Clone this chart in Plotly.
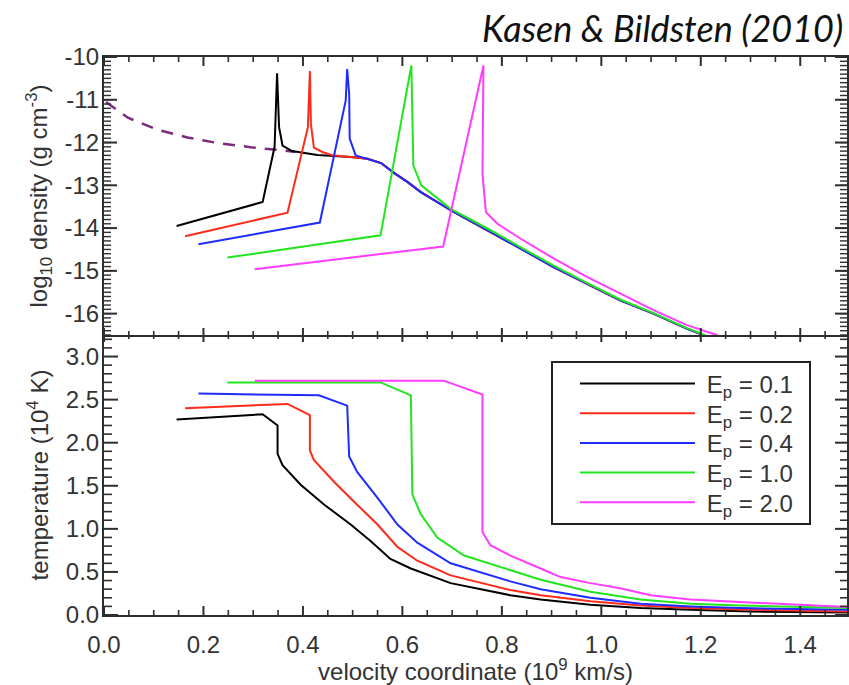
import plotly.graph_objects as go

# ---------------- data: density panel (log10 rho vs velocity coordinate) ----------------
rho_v_01 = [0.146, 0.319, 0.343, 0.348, 0.352, 0.359, 0.378, 0.429, 0.496, 0.530, 0.557, 0.583, 0.610, 0.637,
            0.704, 0.771, 0.838, 0.904, 0.971, 1.038, 1.105, 1.172, 1.199, 1.250]
rho_01 = [-13.95, -13.39, -12.10, -10.38, -11.64, -12.07, -12.20, -12.29, -12.34, -12.38, -12.48, -12.71, -12.92,
          -13.16, -13.63, -14.05, -14.48, -14.91, -15.30, -15.69, -16.00, -16.35, -16.47, -16.75]

rho_v_02 = [0.163, 0.369, 0.410, 0.414, 0.416, 0.422, 0.439, 0.460, 0.496, 0.530, 0.557, 0.583, 0.610, 0.637,
            0.704, 0.771, 0.838, 0.904, 0.971, 1.038, 1.105, 1.172, 1.199, 1.250]
rho_02 = [-14.19, -13.64, -11.64, -10.33, -11.56, -12.12, -12.22, -12.30, -12.34, -12.38, -12.48, -12.71, -12.92,
          -13.16, -13.63, -14.05, -14.48, -14.91, -15.30, -15.69, -16.00, -16.35, -16.47, -16.75]

rho_v_04 = [0.190, 0.434, 0.486, 0.489, 0.493, 0.494, 0.506, 0.530, 0.557, 0.583, 0.610, 0.637,
            0.704, 0.771, 0.838, 0.904, 0.971, 1.038, 1.105, 1.172, 1.199, 1.250]
rho_04 = [-14.38, -13.87, -11.02, -10.28, -10.86, -11.91, -12.30, -12.38, -12.48, -12.71, -12.92,
          -13.16, -13.63, -14.05, -14.48, -14.91, -15.30, -15.69, -16.00, -16.35, -16.47, -16.75]

rho_v_10 = [0.248, 0.556, 0.618, 0.622, 0.638, 0.697, 0.771, 0.838, 0.904, 0.971, 1.038, 1.105, 1.172, 1.199, 1.250]
rho_10 = [-14.69, -14.17, -10.20, -12.54, -13.00, -13.55, -14.01, -14.44, -14.88, -15.28, -15.67, -15.99, -16.34,
          -16.46, -16.72]

rho_v_20 = [0.303, 0.682, 0.763, 0.761, 0.768, 0.791, 0.838, 0.904, 0.971, 1.038, 1.105, 1.172, 1.232, 1.260]
rho_20 = [-14.96, -14.43, -10.20, -12.73, -13.63, -13.90, -14.25, -14.71, -15.14, -15.53, -15.92, -16.27, -16.50,
          -16.65]

# unshocked progenitor profile (dashed)
rho_v_init = [0.004, 0.048, 0.108, 0.168, 0.228, 0.295, 0.355, 0.385]
rho_init = [-11.05, -11.42, -11.70, -11.88, -12.01, -12.11, -12.18, -12.22]

# ---------------- data: temperature panel (1e4 K) ----------------
t_v_01 = [0.146, 0.319, 0.349, 0.349, 0.359, 0.396, 0.443, 0.496, 0.536, 0.576, 0.617, 0.697, 0.817, 0.878,
          0.978, 1.079, 1.179, 1.300, 1.500]
t_01 = [2.27, 2.33, 2.20, 1.87, 1.74, 1.51, 1.28, 1.05, 0.86, 0.65, 0.54, 0.37, 0.23, 0.18, 0.12, 0.08, 0.06,
        0.04, 0.03]

t_v_02 = [0.163, 0.369, 0.414, 0.414, 0.422, 0.462, 0.509, 0.550, 0.590, 0.630, 0.697, 0.817, 0.878, 0.978,
          1.079, 1.179, 1.300, 1.500]
t_02 = [2.40, 2.45, 2.32, 1.91, 1.80, 1.55, 1.28, 1.05, 0.79, 0.63, 0.46, 0.29, 0.23, 0.16, 0.11, 0.08, 0.06,
        0.04]

t_v_04 = [0.190, 0.432, 0.489, 0.493, 0.509, 0.550, 0.590, 0.630, 0.697, 0.817, 0.878, 0.978, 1.079, 1.179,
          1.279, 1.500]
t_04 = [2.57, 2.55, 2.43, 1.84, 1.66, 1.36, 1.05, 0.84, 0.60, 0.39, 0.30, 0.20, 0.13, 0.10, 0.08, 0.06]

t_v_10 = [0.248, 0.556, 0.617, 0.620, 0.637, 0.670, 0.724, 0.817, 0.878, 0.978, 1.079, 1.179, 1.279, 1.500]
t_10 = [2.70, 2.70, 2.55, 1.40, 1.17, 0.90, 0.69, 0.52, 0.41, 0.27, 0.18, 0.13, 0.11, 0.08]

t_v_20 = [0.303, 0.683, 0.761, 0.761, 0.777, 0.817, 0.878, 0.918, 0.978, 1.038, 1.099, 1.179, 1.279, 1.380, 1.500]
t_20 = [2.72, 2.72, 2.56, 0.96, 0.81, 0.69, 0.54, 0.44, 0.37, 0.31, 0.23, 0.18, 0.15, 0.12, 0.09]

labels = ["E<sub>p</sub> = 0.1", "E<sub>p</sub> = 0.2", "E<sub>p</sub> = 0.4",
          "E<sub>p</sub> = 1.0", "E<sub>p</sub> = 2.0"]
colors = ["#000000", "#ff2a1a", "#1f2cff", "#22e51f", "#ff3cff"]

# tick values and labels
x_major = [0.0, 0.2, 0.4, 0.6, 0.8, 1.0, 1.2, 1.4]
x_minor = [round(0.05 * i, 2) for i in range(30) if i % 4]
rho_major = [-16, -15, -14, -13, -12, -11, -10]
rho_labels = ["-16", "-15", "-14", "-13", "-12", "-11", "-10"]
rho_minor = [round(-16.5 + 0.1 * i, 1) for i in range(66)]
t_major = [0.0, 0.5, 1.0, 1.5, 2.0, 2.5, 3.0]
t_minor = [round(0.1 * i, 1) for i in range(33) if i % 5]

rho_sets = [(rho_v_01, rho_01), (rho_v_02, rho_02), (rho_v_04, rho_04), (rho_v_10, rho_10), (rho_v_20, rho_20)]
t_sets = [(t_v_01, t_01), (t_v_02, t_02), (t_v_04, t_04), (t_v_10, t_10), (t_v_20, t_20)]

# pixel geometry of the frame
L, R, T, B = 104, 847, 57, 615
W, H = R - L, B - T
SPLIT_PX = 335
split = (B - SPLIT_PX) / H


def px_x(p):
    return (p - L) / W


def px_y(p):
    return (B - p) / H


fig = go.Figure()

fig.add_trace(go.Scatter(x=rho_v_init, y=rho_init, mode="lines", xaxis="x", yaxis="y",
                         line=dict(color="#7d2a7d", width=2.5, dash="12px,9px"), showlegend=False))
for (vx, vy), col in zip(rho_sets, colors):
    fig.add_trace(go.Scatter(x=vx, y=vy, mode="lines", xaxis="x", yaxis="y",
                             line=dict(color=col, width=2), showlegend=False))
legend_ids = ["legend", "legend2", "legend3", "legend4", "legend5"]
for (vx, vy), col, lab, lg in zip(t_sets, colors, labels, legend_ids):
    fig.add_trace(go.Scatter(x=vx, y=vy, mode="lines", xaxis="x2", yaxis="y2", name="\u00a0" + lab,
                             legend=lg, line=dict(color=col, width=2)))

FONT = "Liberation Sans, Arial, sans-serif"
TXT = "#333333"
AX = "#2e2e2e"

# ---- tick marks drawn as axis decorations (IDL style: inside, all four sides) ----
shapes = []


def xtick(xref, yref, val, anchor, lo, hi, w):
    shapes.append(dict(type="line", xref=xref, yref=yref, x0=val, x1=val, ysizemode="pixel", yanchor=anchor,
                       y0=lo, y1=hi, line=dict(color=AX, width=w), layer="above"))


def ytick(xref, yref, val, anchor, lo, hi, w):
    shapes.append(dict(type="line", xref=xref, yref=yref, y0=val, y1=val, xsizemode="pixel", xanchor=anchor,
                       x0=lo, x1=hi, line=dict(color=AX, width=w), layer="above"))


for v in x_major:
    xtick("x", "y domain", v, 1, 0, -9, 2)      # top frame
    xtick("x", "y domain", v, 0, -7, 7, 2)      # shared boundary
    xtick("x2", "y2 domain", v, 0, 0, 9, 2)     # bottom frame
for v in x_minor:
    xtick("x", "y domain", v, 1, 0, -5, 1.6)
    xtick("x", "y domain", v, 0, -4, 4, 1.6)
    xtick("x2", "y2 domain", v, 0, 0, 5, 1.6)
for v in rho_major:
    ytick("x domain", "y", v, 0, 0, 13, 2)
    ytick("x domain", "y", v, 1, 0, -12, 2)
for v in rho_minor:
    ytick("x domain", "y", v, 0, 0, 7, 1.4)
    ytick("x domain", "y", v, 1, 0, -7, 1.4)
for v in t_major:
    ytick("x2 domain", "y2", v, 0, 0, 14, 2)
    ytick("x2 domain", "y2", v, 1, 0, -12, 2)
for v in t_minor:
    ytick("x2 domain", "y2", v, 0, 0, 8, 1.6)
    ytick("x2 domain", "y2", v, 1, 0, -7, 1.6)

# legend frame
shapes.append(dict(type="rect", xref="paper", yref="paper", x0=px_x(552), x1=px_x(810), y0=px_y(524),
                   y1=px_y(362), line=dict(color="#222222", width=2), fillcolor="white", layer="above"))

common_x = dict(range=[0, 1.494], tickmode="array", tickvals=x_major, ticks="", showline=True, linecolor=AX,
                linewidth=2, showgrid=False, zeroline=False)

legend_rows = [384, 413.7, 443.3, 473, 502.7]
legends = {}
for lg, row in zip(legend_ids, legend_rows):
    legends[lg] = dict(x=px_x(575), y=px_y(row), xanchor="left", yanchor="middle",
                       bgcolor="rgba(0,0,0,0)", borderwidth=0, itemwidth=115,
                       font=dict(family=FONT, size=24, color=TXT))

fig.update_layout(
    template="none",
    width=849, height=685,
    margin=dict(l=L, r=849 - R, t=T, b=685 - B),
    paper_bgcolor="white", plot_bgcolor="white",
    font=dict(family=FONT, size=24, color=TXT),
    xaxis=dict(domain=[0, 1], anchor="y", showticklabels=False, mirror=True, **common_x),
    xaxis2=dict(domain=[0, 1], anchor="y2", showticklabels=True, mirror=False, tickformat=".1f",
                ticklabelstandoff=7, tickfont=dict(size=24, color=TXT),
                title=dict(text="velocity coordinate (10<sup>9</sup> km/s)", standoff=2,
                           font=dict(size=24, color=TXT)), **common_x),
    yaxis=dict(domain=[split, 1], anchor="x", range=[-16.5, -10], tickmode="array", tickvals=rho_major,
               ticktext=rho_labels, ticks="", showline=True, linecolor=AX, linewidth=2, mirror=True,
               showgrid=False, zeroline=False, ticklabelstandoff=-2, tickfont=dict(size=24, color=TXT),
               title=dict(text="log<sub>10</sub> density (g cm<sup>-3</sup>)", standoff=10,
                          font=dict(size=24, color=TXT))),
    yaxis2=dict(domain=[0, split], anchor="x2", range=[0, 3.25], tickmode="array", tickvals=t_major,
                tickformat=".1f", ticks="", showline=True, linecolor=AX, linewidth=2, mirror=True,
                showgrid=False, zeroline=False, ticklabelstandoff=-2, tickfont=dict(size=24, color=TXT),
                title=dict(text="temperature (10<sup>4</sup> K)", standoff=10, font=dict(size=24, color=TXT))),
    shapes=shapes,
    annotations=[dict(text="Kasen & Bildsten (2010)", xref="paper", yref="paper",
                      x=px_x(845), y=px_y(28), xanchor="right", yanchor="middle",
                      showarrow=False, font=dict(family="Lato, Open Sans, sans-serif", size=36,
                                                 color="#111111", style="italic"))],
    **legends,
)

fig.write_html("out.html")
